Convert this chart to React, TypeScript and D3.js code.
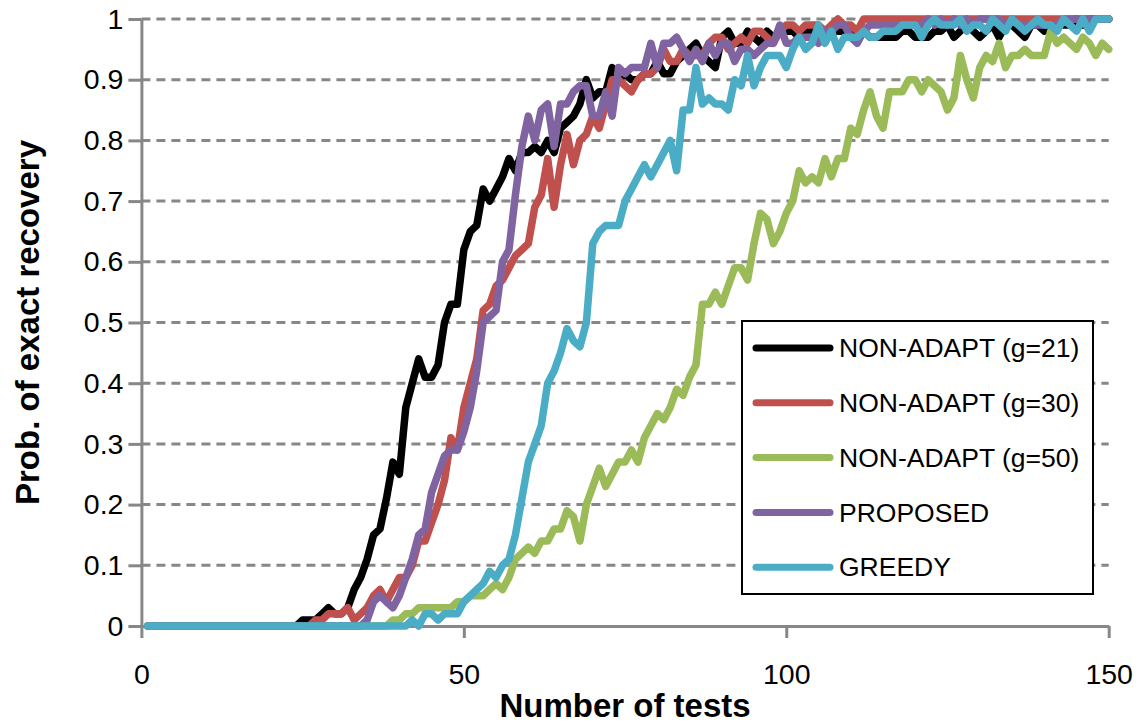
import React, { useEffect, useRef } from 'react';
import * as d3 from 'd3';

// Number of tests (x positions of every sample)
const testCounts: number[] = d3.range(1, 151);

// Probability of exact recovery for each method, one value per test count (1..150)
const nonAdapt21: number[] = [
  0, 0, 0, 0, 0, 0, 0, 0, 0, 0,
  0, 0, 0, 0, 0, 0, 0, 0, 0, 0,
  0, 0, 0, 0, 0.01, 0.01, 0.01, 0.02, 0.03, 0.02,
  0.02, 0.03, 0.06, 0.08, 0.11, 0.15, 0.16, 0.21, 0.27, 0.25,
  0.36, 0.40, 0.44, 0.41, 0.41, 0.43, 0.50, 0.53, 0.53, 0.62,
  0.65, 0.66, 0.72, 0.70, 0.72, 0.74, 0.77, 0.75, 0.78, 0.78,
  0.79, 0.78, 0.80, 0.78, 0.82, 0.83, 0.84, 0.86, 0.90, 0.87,
  0.88, 0.88, 0.92, 0.90, 0.91, 0.90, 0.90, 0.91, 0.91, 0.93,
  0.91, 0.91, 0.93, 0.94, 0.95, 0.96, 0.94, 0.93, 0.92, 0.97,
  0.98, 0.96, 0.96, 0.98, 0.97, 0.96, 0.98, 0.97, 0.98, 0.98,
  0.98, 0.97, 0.98, 0.98, 0.98, 0.98, 0.98, 0.98, 0.98, 0.98,
  0.98, 0.98, 0.97, 0.97, 0.97, 0.97, 0.97, 0.98, 0.98, 0.97,
  0.97, 0.97, 0.98, 0.98, 0.99, 0.97, 0.98, 0.99, 0.98, 0.97,
  0.98, 0.99, 0.97, 0.99, 0.99, 0.98, 0.97, 0.99, 0.99, 0.98,
  0.99, 0.99, 0.99, 0.99, 1, 0.99, 1, 1, 1, 1,
];

const nonAdapt30: number[] = [
  0, 0, 0, 0, 0, 0, 0, 0, 0, 0,
  0, 0, 0, 0, 0, 0, 0, 0, 0, 0,
  0, 0, 0, 0, 0, 0, 0.01, 0.01, 0.02, 0.02,
  0.02, 0.03, 0.01, 0.02, 0.03, 0.05, 0.06, 0.04, 0.06, 0.08,
  0.08, 0.10, 0.14, 0.14, 0.17, 0.20, 0.24, 0.31, 0.29, 0.36,
  0.40, 0.44, 0.52, 0.53, 0.56, 0.57, 0.59, 0.61, 0.62, 0.63,
  0.69, 0.71, 0.77, 0.69, 0.76, 0.81, 0.76, 0.80, 0.81, 0.84,
  0.82, 0.86, 0.90, 0.90, 0.89, 0.88, 0.90, 0.91, 0.91, 0.92,
  0.95, 0.93, 0.93, 0.95, 0.94, 0.94, 0.94, 0.96, 0.97, 0.97,
  0.95, 0.96, 0.97, 0.96, 0.98, 0.98, 0.97, 0.96, 0.98, 0.99,
  0.99, 0.98, 0.99, 0.99, 0.99, 0.98, 0.99, 1, 0.99, 0.99,
  0.98, 1, 1, 1, 1, 1, 1, 1, 1, 1,
  1, 1, 1, 1, 1, 1, 1, 1, 1, 1,
  1, 1, 1, 1, 1, 1, 1, 1, 1, 1,
  1, 1, 1, 1, 1, 1, 1, 1, 1, 1,
];

const nonAdapt50: number[] = [
  0, 0, 0, 0, 0, 0, 0, 0, 0, 0,
  0, 0, 0, 0, 0, 0, 0, 0, 0, 0,
  0, 0, 0, 0, 0, 0, 0, 0, 0, 0,
  0, 0, 0, 0, 0, 0, 0, 0, 0.01, 0.01,
  0.02, 0.02, 0.03, 0.03, 0.03, 0.03, 0.03, 0.03, 0.04, 0.04,
  0.05, 0.05, 0.05, 0.06, 0.07, 0.06, 0.08, 0.11, 0.12, 0.13,
  0.12, 0.14, 0.14, 0.16, 0.16, 0.19, 0.18, 0.14, 0.20, 0.23,
  0.26, 0.23, 0.25, 0.27, 0.27, 0.29, 0.27, 0.31, 0.33, 0.35,
  0.34, 0.36, 0.39, 0.38, 0.41, 0.43, 0.53, 0.53, 0.55, 0.53,
  0.56, 0.59, 0.59, 0.57, 0.63, 0.68, 0.67, 0.63, 0.65, 0.68,
  0.70, 0.75, 0.73, 0.74, 0.73, 0.77, 0.74, 0.77, 0.77, 0.82,
  0.81, 0.85, 0.88, 0.84, 0.82, 0.88, 0.88, 0.88, 0.90, 0.90,
  0.88, 0.90, 0.89, 0.88, 0.85, 0.87, 0.94, 0.90, 0.87, 0.92,
  0.94, 0.93, 0.96, 0.92, 0.94, 0.94, 0.95, 0.94, 0.94, 0.94,
  0.98, 0.96, 0.97, 0.96, 0.95, 0.97, 0.96, 0.94, 0.96, 0.95,
];

const proposed: number[] = [
  0, 0, 0, 0, 0, 0, 0, 0, 0, 0,
  0, 0, 0, 0, 0, 0, 0, 0, 0, 0,
  0, 0, 0, 0, 0, 0, 0, 0, 0, 0,
  0, 0, 0, 0, 0.01, 0.04, 0.05, 0.04, 0.03, 0.05,
  0.08, 0.11, 0.15, 0.16, 0.22, 0.25, 0.28, 0.29, 0.29, 0.32,
  0.36, 0.42, 0.50, 0.51, 0.52, 0.60, 0.62, 0.71, 0.79, 0.84,
  0.80, 0.85, 0.86, 0.79, 0.86, 0.86, 0.88, 0.89, 0.89, 0.84,
  0.84, 0.88, 0.84, 0.92, 0.91, 0.92, 0.92, 0.92, 0.96, 0.92,
  0.96, 0.96, 0.97, 0.95, 0.93, 0.95, 0.93, 0.96, 0.94, 0.96,
  0.96, 0.93, 0.95, 0.95, 0.94, 0.95, 0.96, 0.96, 0.99, 0.96,
  0.96, 0.97, 0.97, 0.97, 0.96, 0.98, 0.98, 0.99, 0.99, 0.97,
  0.96, 0.98, 0.99, 0.99, 0.99, 0.99, 0.99, 0.99, 0.99, 0.99,
  0.99, 1, 0.99, 1, 0.99, 1, 0.99, 1, 0.99, 1,
  1, 1, 1, 0.99, 1, 0.99, 0.99, 0.99, 0.99, 0.99,
  0.99, 0.99, 1, 1, 1, 1, 1, 1, 1, 1,
];

const greedy: number[] = [
  0, 0, 0, 0, 0, 0, 0, 0, 0, 0,
  0, 0, 0, 0, 0, 0, 0, 0, 0, 0,
  0, 0, 0, 0, 0, 0, 0, 0, 0, 0,
  0, 0, 0, 0, 0, 0, 0, 0, 0, 0,
  0, 0.01, 0, 0.02, 0.02, 0.01, 0.02, 0.02, 0.02, 0.04,
  0.05, 0.06, 0.07, 0.09, 0.08, 0.10, 0.11, 0.15, 0.21, 0.27,
  0.30, 0.33, 0.40, 0.42, 0.45, 0.49, 0.47, 0.46, 0.50, 0.63,
  0.65, 0.66, 0.66, 0.66, 0.70, 0.72, 0.74, 0.76, 0.74, 0.76,
  0.78, 0.80, 0.75, 0.85, 0.85, 0.92, 0.86, 0.87, 0.86, 0.86,
  0.85, 0.90, 0.89, 0.94, 0.89, 0.92, 0.94, 0.94, 0.94, 0.92,
  0.95, 0.97, 0.95, 0.96, 0.99, 0.96, 0.98, 0.95, 0.97, 0.97,
  0.97, 0.98, 0.97, 0.97, 0.98, 0.98, 0.98, 0.99, 0.99, 0.99,
  0.97, 0.99, 1, 0.99, 0.99, 0.99, 1, 0.98, 0.99, 0.99,
  0.98, 1, 0.99, 0.98, 1, 0.99, 0.98, 0.99, 1, 0.99,
  0.99, 0.98, 1, 0.99, 0.98, 1, 0.98, 1, 1, 1,
];

const seriesNames: string[] = [
  'NON-ADAPT (g=21)',
  'NON-ADAPT (g=30)',
  'NON-ADAPT (g=50)',
  'PROPOSED',
  'GREEDY',
];
const seriesValues: number[][] = [nonAdapt21, nonAdapt30, nonAdapt50, proposed, greedy];
const seriesColors: string[] = ['#000000', '#C0504D', '#9BBB59', '#8064A2', '#4BACC6'];

const yTickValues: number[] = [0, 0.1, 0.2, 0.3, 0.4, 0.5, 0.6, 0.7, 0.8, 0.9, 1];
const yTickLabels: string[] = ['0', '0.1', '0.2', '0.3', '0.4', '0.5', '0.6', '0.7', '0.8', '0.9', '1'];
const xTickValues: number[] = [0, 50, 100, 150];
const xTickLabels: string[] = ['0', '50', '100', '150'];

const xTitle = 'Number of tests';
const yTitle = 'Prob. of exact recovery';

const WIDTH = 1146;
const HEIGHT = 725;
const FONT = "'Liberation Sans', Arial, sans-serif";
const AXIS_GREY = '#878787';

export default function App() {
  const ref = useRef<SVGSVGElement | null>(null);

  useEffect(() => {
    if (!ref.current) return;
    const svg = d3.select(ref.current);
    svg.selectAll('*').remove();

    const x = d3.scaleLinear().domain([0, 150]).range([141.4, 1108.7]);
    const y = d3.scaleLinear().domain([0, 1]).range([626, 19]);

    // dashed horizontal gridlines
    svg
      .append('g')
      .selectAll('line')
      .data(yTickValues.filter((v) => v > 0))
      .join('line')
      .attr('x1', x(0))
      .attr('x2', x(150))
      .attr('y1', (d) => y(d))
      .attr('y2', (d) => y(d))
      .attr('stroke', AXIS_GREY)
      .attr('stroke-width', 3)
      .attr('stroke-dasharray', '9,6');

    // y axis
    const yAxis = d3
      .axisLeft(y)
      .tickValues(yTickValues)
      .tickFormat((_d, i) => yTickLabels[i])
      .tickSize(13)
      .tickSizeOuter(0)
      .tickPadding(5);
    const gy = svg.append('g').attr('transform', `translate(${x(0)},0)`).call(yAxis);
    gy.select('.domain').attr('stroke', AXIS_GREY).attr('stroke-width', 3);
    gy.selectAll('.tick line').attr('stroke', AXIS_GREY).attr('stroke-width', 3);
    gy.selectAll('.tick text')
      .attr('fill', '#000')
      .attr('font-family', FONT)
      .attr('font-size', 28.5);

    // x axis
    const xAxis = d3
      .axisBottom(x)
      .tickValues(xTickValues)
      .tickFormat((_d, i) => xTickLabels[i])
      .tickSize(12)
      .tickSizeOuter(0)
      .tickPadding(26);
    const gx = svg.append('g').attr('transform', `translate(0,${y(0)})`).call(xAxis);
    gx.select('.domain').attr('stroke', AXIS_GREY).attr('stroke-width', 3);
    gx.selectAll('.tick line').attr('stroke', AXIS_GREY).attr('stroke-width', 3);
    gx.selectAll('.tick text')
      .attr('fill', '#000')
      .attr('font-family', FONT)
      .attr('font-size', 28.5);

    // series lines
    const line = d3
      .line<number>()
      .x((_d, i) => x(testCounts[i]))
      .y((d) => y(d));

    svg
      .append('g')
      .selectAll('path')
      .data(seriesValues)
      .join('path')
      .attr('d', (d) => line(d))
      .attr('fill', 'none')
      .attr('stroke', (_d, i) => seriesColors[i])
      .attr('stroke-width', 7.5)
      .attr('stroke-linejoin', 'round')
      .attr('stroke-linecap', 'round');

    // axis titles
    svg
      .append('text')
      .attr('x', (x(0) + x(150)) / 2)
      .attr('y', 717)
      .attr('text-anchor', 'middle')
      .attr('font-family', FONT)
      .attr('font-weight', 'bold')
      .attr('font-size', 33)
      .text(xTitle);

    svg
      .append('text')
      .attr('transform', `translate(39,${(y(0) + y(1)) / 2}) rotate(-90)`)
      .attr('text-anchor', 'middle')
      .attr('font-family', FONT)
      .attr('font-weight', 'bold')
      .attr('font-size', 33)
      .text(yTitle);

    // legend
    const legend = svg.append('g');
    legend
      .append('rect')
      .attr('x', 742)
      .attr('y', 321)
      .attr('width', 351)
      .attr('height', 273)
      .attr('fill', '#fff')
      .attr('stroke', '#000')
      .attr('stroke-width', 2);

    const rows = legend
      .selectAll('g.row')
      .data(seriesNames)
      .join('g')
      .attr('class', 'row')
      .attr('transform', (_d, i) => `translate(0,${348 + i * 54.8})`);
    rows
      .append('line')
      .attr('x1', 756)
      .attr('x2', 830)
      .attr('y1', 0)
      .attr('y2', 0)
      .attr('stroke', (_d, i) => seriesColors[i])
      .attr('stroke-width', 7)
      .attr('stroke-linecap', 'round');
    rows
      .append('text')
      .attr('x', 839)
      .attr('y', 0)
      .attr('dy', '0.35em')
      .attr('font-family', FONT)
      .attr('font-size', 26.5)
      .attr('fill', '#000')
      .text((d) => d);
  }, []);

  return (
    <svg
      ref={ref}
      width={WIDTH}
      height={HEIGHT}
      style={{ position: 'absolute', left: 0, top: 0, background: '#fff' }}
    />
  );
}
